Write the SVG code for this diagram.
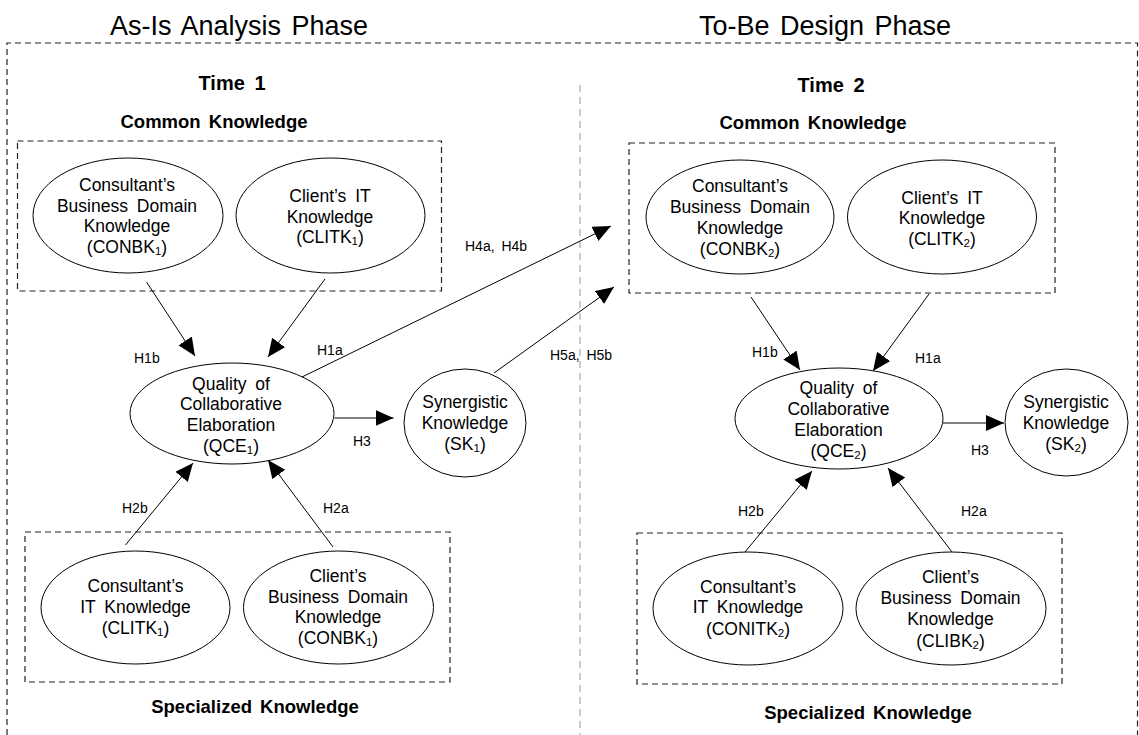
<svg xmlns="http://www.w3.org/2000/svg" width="1139" height="735" viewBox="0 0 1139 735">
  <defs>
    <marker id="arrow" markerUnits="userSpaceOnUse" markerWidth="19" markerHeight="17" refX="18" refY="8" orient="auto">
      <path d="M0,0 L18,8 L0,16 Z" fill="#000"/>
    </marker>
    <style>
      text { font-family: "Liberation Sans", Arial, sans-serif; fill: #000; }
      .title { font-size: 27px; word-spacing: 3px; text-anchor: middle; }
      .time { font-size: 20px; font-weight: bold; word-spacing: 4px; text-anchor: middle; }
      .group-label { font-size: 18.5px; font-weight: bold; word-spacing: 3px; text-anchor: middle; }
      .node-text { font-size: 17.5px; word-spacing: 4px; text-anchor: middle; }
      .sub { font-size: 11.5px; }
      .hyp { font-size: 14px; word-spacing: 3px; }
      .frame { fill: none; stroke: #222; stroke-width: 1.2; stroke-dasharray: 6 4; }
      .divider { fill: none; stroke: #999; stroke-width: 1; stroke-dasharray: 7 5; }
      .node { fill: #fff; stroke: #000; stroke-width: 1; }
      .edge { fill: none; stroke: #000; stroke-width: 1; marker-end: url(#arrow); }
    </style>
  </defs>

  <rect width="1139" height="735" fill="#fff"/>

  <!-- phase titles and frames -->
  <g id="frames">
    <text class="title" x="239" y="35">As-Is Analysis Phase</text>
    <text class="title" x="825" y="35">To-Be Design Phase</text>
    <path class="frame" d="M7,735 V43 H1137.5 V735"/>
    <line class="divider" x1="580" y1="85" x2="580" y2="735"/>
    <text class="time" x="232" y="90">Time 1</text>
    <text class="time" x="831" y="92">Time 2</text>
    <text class="group-label" x="214" y="128">Common Knowledge</text>
    <text class="group-label" x="813" y="129">Common Knowledge</text>
    <text class="group-label" x="255" y="713">Specialized Knowledge</text>
    <text class="group-label" x="868" y="719">Specialized Knowledge</text>
    <rect class="frame" x="17.5" y="141" width="424" height="150"/>
    <rect class="frame" x="629" y="143" width="426" height="150"/>
    <rect class="frame" x="25" y="532" width="425" height="150"/>
    <rect class="frame" x="637" y="533" width="425" height="151"/>
  </g>

  <!-- connectors -->
  <g id="connectors">
    <line class="edge" x1="146.5" y1="282" x2="195" y2="356"/>
    <line class="edge" x1="325" y1="279" x2="268" y2="357"/>
    <line class="edge" x1="302" y1="377" x2="611" y2="226"/>
    <line class="edge" x1="494" y1="373" x2="614" y2="287"/>
    <line class="edge" x1="334.5" y1="418" x2="393.5" y2="418"/>
    <line class="edge" x1="125.5" y1="545" x2="193" y2="463"/>
    <line class="edge" x1="333" y1="547" x2="268" y2="460"/>
    <line class="edge" x1="751" y1="297" x2="800" y2="370"/>
    <line class="edge" x1="929" y1="294" x2="873" y2="371"/>
    <line class="edge" x1="943" y1="423" x2="1004" y2="423"/>
    <line class="edge" x1="745" y1="552" x2="812" y2="471"/>
    <line class="edge" x1="952" y1="552" x2="888" y2="468"/>

    <text class="hyp" x="134" y="363">H1b</text>
    <text class="hyp" x="317" y="355">H1a</text>
    <text class="hyp" x="465" y="251">H4a, H4b</text>
    <text class="hyp" x="550" y="360">H5a, H5b</text>
    <text class="hyp" x="353" y="446">H3</text>
    <text class="hyp" x="122" y="513">H2b</text>
    <text class="hyp" x="323" y="513">H2a</text>
    <text class="hyp" x="752" y="357">H1b</text>
    <text class="hyp" x="915" y="363">H1a</text>
    <text class="hyp" x="971" y="455">H3</text>
    <text class="hyp" x="738" y="516">H2b</text>
    <text class="hyp" x="961" y="516">H2a</text>
  </g>

  <!-- Time 1 nodes -->
  <g id="conbk1-top">
    <ellipse class="node" cx="128" cy="215.5" rx="95" ry="57.5"/>
    <text class="node-text" x="127" y="191">Consultant’s</text>
    <text class="node-text" x="127" y="212">Business Domain</text>
    <text class="node-text" x="127" y="232">Knowledge</text>
    <text class="node-text" x="127" y="253">(CONBK<tspan class="sub" dy="2">1</tspan><tspan dy="-2">)</tspan></text>
  </g>
  <g id="clitk1-top">
    <ellipse class="node" cx="330.5" cy="215.5" rx="94.5" ry="57.5"/>
    <text class="node-text" x="330" y="202">Client’s IT</text>
    <text class="node-text" x="330" y="223">Knowledge</text>
    <text class="node-text" x="330" y="243">(CLITK<tspan class="sub" dy="2">1</tspan><tspan dy="-2">)</tspan></text>
  </g>
  <g id="qce1">
    <ellipse class="node" cx="232" cy="413.5" rx="102" ry="50.5"/>
    <text class="node-text" x="231" y="390">Quality of</text>
    <text class="node-text" x="231" y="410">Collaborative</text>
    <text class="node-text" x="231" y="431">Elaboration</text>
    <text class="node-text" x="231" y="452">(QCE<tspan class="sub" dy="2">1</tspan><tspan dy="-2">)</tspan></text>
  </g>
  <g id="sk1">
    <ellipse class="node" cx="465" cy="423" rx="61" ry="54"/>
    <text class="node-text" x="465" y="408">Synergistic</text>
    <text class="node-text" x="465" y="429">Knowledge</text>
    <text class="node-text" x="465" y="450">(SK<tspan class="sub" dy="2">1</tspan><tspan dy="-2">)</tspan></text>
  </g>
  <g id="clitk1-bottom">
    <ellipse class="node" cx="135.5" cy="607.5" rx="94.5" ry="56.5"/>
    <text class="node-text" x="135.5" y="592">Consultant’s</text>
    <text class="node-text" x="135.5" y="613">IT Knowledge</text>
    <text class="node-text" x="135.5" y="634">(CLITK<tspan class="sub" dy="2">1</tspan><tspan dy="-2">)</tspan></text>
  </g>
  <g id="conbk1-bottom">
    <ellipse class="node" cx="338.5" cy="607.5" rx="95" ry="56.5"/>
    <text class="node-text" x="338" y="582">Client’s</text>
    <text class="node-text" x="338" y="603">Business Domain</text>
    <text class="node-text" x="338" y="623">Knowledge</text>
    <text class="node-text" x="338" y="644">(CONBK<tspan class="sub" dy="2">1</tspan><tspan dy="-2">)</tspan></text>
  </g>

  <!-- Time 2 nodes -->
  <g id="conbk2">
    <ellipse class="node" cx="740" cy="217" rx="94" ry="57"/>
    <text class="node-text" x="740" y="192">Consultant’s</text>
    <text class="node-text" x="740" y="213">Business Domain</text>
    <text class="node-text" x="740" y="234">Knowledge</text>
    <text class="node-text" x="740" y="255">(CONBK<tspan class="sub" dy="2">2</tspan><tspan dy="-2">)</tspan></text>
  </g>
  <g id="clitk2">
    <ellipse class="node" cx="942" cy="217" rx="94.5" ry="57"/>
    <text class="node-text" x="942" y="204">Client’s IT</text>
    <text class="node-text" x="942" y="224">Knowledge</text>
    <text class="node-text" x="942" y="245">(CLITK<tspan class="sub" dy="2">2</tspan><tspan dy="-2">)</tspan></text>
  </g>
  <g id="qce2">
    <ellipse class="node" cx="839" cy="418.5" rx="104" ry="50.5"/>
    <text class="node-text" x="838.5" y="394">Quality of</text>
    <text class="node-text" x="838.5" y="415">Collaborative</text>
    <text class="node-text" x="838.5" y="436">Elaboration</text>
    <text class="node-text" x="838.5" y="457">(QCE<tspan class="sub" dy="2">2</tspan><tspan dy="-2">)</tspan></text>
  </g>
  <g id="sk2">
    <ellipse class="node" cx="1066.5" cy="422.5" rx="61.5" ry="53.5"/>
    <text class="node-text" x="1066" y="408">Synergistic</text>
    <text class="node-text" x="1066" y="429">Knowledge</text>
    <text class="node-text" x="1066" y="450">(SK<tspan class="sub" dy="2">2</tspan><tspan dy="-2">)</tspan></text>
  </g>
  <g id="conitk2">
    <ellipse class="node" cx="748" cy="608.5" rx="95" ry="56.5"/>
    <text class="node-text" x="748" y="593">Consultant’s</text>
    <text class="node-text" x="748" y="613">IT Knowledge</text>
    <text class="node-text" x="748" y="635">(CONITK<tspan class="sub" dy="2">2</tspan><tspan dy="-2">)</tspan></text>
  </g>
  <g id="clibk2">
    <ellipse class="node" cx="951" cy="608.5" rx="95" ry="56.5"/>
    <text class="node-text" x="950.5" y="583">Client’s</text>
    <text class="node-text" x="950.5" y="604">Business Domain</text>
    <text class="node-text" x="950.5" y="625">Knowledge</text>
    <text class="node-text" x="950.5" y="647">(CLIBK<tspan class="sub" dy="2">2</tspan><tspan dy="-2">)</tspan></text>
  </g>
</svg>
